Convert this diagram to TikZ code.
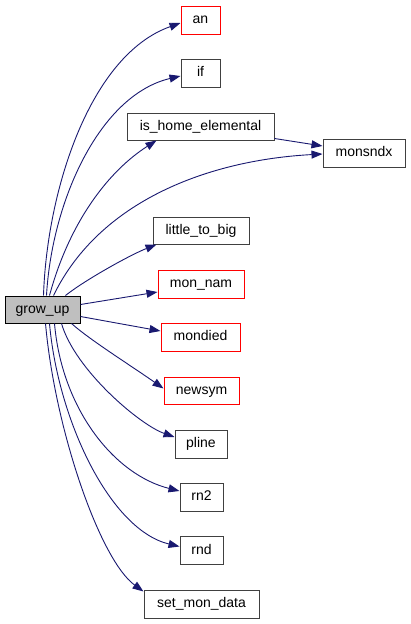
\documentclass[tikz,border=0pt]{standalone}
\usepackage{fontspec}
\setmainfont{Liberation Sans}
\usetikzlibrary{arrows.meta}
\definecolor{edgeblue}{HTML}{191970}
\definecolor{redborder}{HTML}{FF0000}
\definecolor{greyborder}{HTML}{404040}
\definecolor{greyfill}{HTML}{BFBFBF}
\tikzset{
  fn/.style={draw=greyborder, line width=1pt, inner sep=0pt, anchor=center,
    font=\fontsize{14}{16}\selectfont, text height=10pt, text depth=3pt},
  fnred/.style={fn, draw=redborder},
  fncur/.style={fn, fill=greyfill, draw=black},
  call/.style={draw=edgeblue, line width=0.9pt, -{Triangle[length=11pt,width=8pt]}}
}
\begin{document}
\begin{tikzpicture}[x=1pt,y=-1pt]
\useasboundingbox (0,0) rectangle (411,624);
\node[fncur, minimum width=75pt, minimum height=27pt] (g) at (42.5,309.5) {grow\_up};
\node[fnred, minimum width=39pt, minimum height=28pt] (an) at (200.5,20) {an};
\node[fn, minimum width=39pt, minimum height=28pt] (if) at (200.5,73) {if};
\node[fn, minimum width=147pt, minimum height=27pt] (ihe) at (200.5,126.5) {is\_home\_elemental};
\node[fn, minimum width=82pt, minimum height=28pt] (mx) at (364,153) {monsndx};
\node[fn, minimum width=96pt, minimum height=27pt] (ltb) at (201,230.5) {little\_to\_big};
\node[fnred, minimum width=86pt, minimum height=28pt] (mn) at (201,284) {mon\_nam};
\node[fnred, minimum width=79pt, minimum height=28pt] (md) at (200.5,337) {mondied};
\node[fnred, minimum width=75pt, minimum height=27pt] (ns) at (201.5,390.5) {newsym};
\node[fn, minimum width=52pt, minimum height=28pt] (pl) at (201,444) {pline};
\node[fn, minimum width=43pt, minimum height=28pt] (rn2) at (201.5,497) {rn2};
\node[fn, minimum width=43pt, minimum height=28pt] (rnd) at (201.5,550.5) {rnd};
\node[fn, minimum width=115pt, minimum height=28pt] (smd) at (201.5,604) {set\_mon\_data};

\draw[call] ([xshift=39pt]g.north west) .. controls (47,190) and (90,55) .. ([yshift=-3pt]an.west);
\draw[call] ([xshift=42pt]g.north west) .. controls (52,200) and (100,95) .. ([yshift=-3pt]if.west);
\draw[call] ([xshift=45pt]g.north west) .. controls (70,220) and (110,170) .. ([xshift=30pt]ihe.south west);
\draw[call] ([xshift=49pt]g.north west) .. controls (100,200) and (210,160) .. ([yshift=-1pt]mx.west);
\draw[call] ([yshift=2pt]ihe.south east) -- ([yshift=7pt]mx.west);
\draw[call] ([xshift=61pt]g.north west) .. controls (85,280) and (130,255) .. ([xshift=4pt]ltb.south west);
\draw[call] ([yshift=5pt]g.east) -- ([yshift=-8pt]mn.west);
\draw[call] ([yshift=-7pt]g.east) -- ([yshift=6pt]md.west);
\draw[call] ([xshift=67pt]g.south west) .. controls (90,340) and (130,365) .. ([yshift=-12pt]ns.north west);
\draw[call] ([xshift=57pt]g.south west) .. controls (75,370) and (140,425) .. ([yshift=7pt]pl.west);
\draw[call] ([xshift=50pt]g.south west) .. controls (62,410) and (115,475) .. ([yshift=6pt]rn2.west);
\draw[call] ([xshift=45pt]g.south west) .. controls (58,420) and (110,530) .. ([yshift=4pt]rnd.west);
\draw[call] ([xshift=41pt]g.south west) .. controls (55,430) and (100,560) .. ([yshift=-2pt]smd.north west);
\end{tikzpicture}
\end{document}
